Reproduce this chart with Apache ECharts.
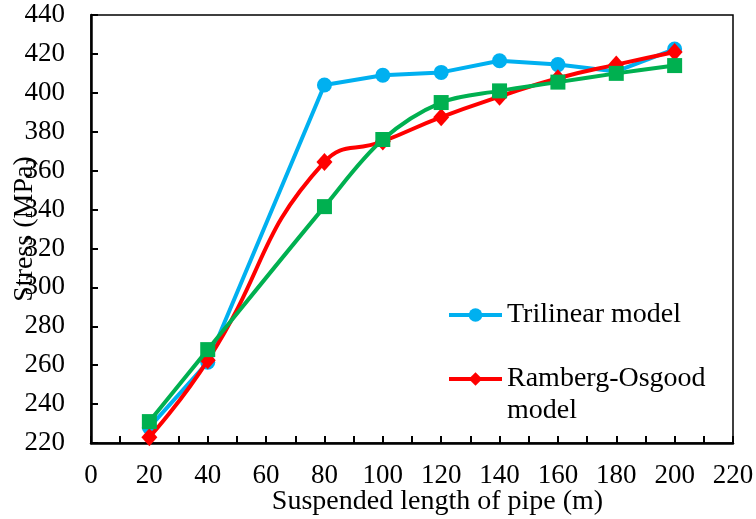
<!DOCTYPE html>
<html>
<head>
<meta charset="utf-8">
<script src="https://cdn.jsdelivr.net/npm/echarts@6/dist/echarts.min.js"></script>
<style>html,body{margin:0;padding:0;background:#fff}#c{width:756px;height:519px}</style>
</head>
<body>
<div id="c"></div>
<script>
var xValues = [20, 40, 80, 100, 120, 140, 160, 180, 200];
var trilinear = [228, 261.5, 404, 409, 410.5, 416.5, 414.5, 411, 422.5];
var rambergOsgood = [223, 262.5, 364.5, 375, 387.5, 398, 407.5, 414.5, 421];
var thirdSeries = [231, 268, 341.5, 376, 395, 401, 405.5, 410, 414];
var seriesNames = ['Trilinear model', 'Ramberg-Osgood model', 'Model 3'];
var xTitle = 'Suspended length of pipe (m)';
var yTitle = 'Stress (MPa)';

function pairs(v) { return xValues.map(function (x, i) { return [x, v[i]]; }); }

var FONT = 'Liberation Serif';
var chart = echarts.init(document.getElementById('c'));
chart.setOption({
  animation: false,
  backgroundColor: '#fff',
  grid: { left: 91, right: 23, top: 15, bottom: 76, show: true, borderColor: '#000', borderWidth: 1.5, backgroundColor: 'transparent', outerBoundsMode: 'none', containLabel: false },
  legend: [{
    left: 447, top: 299, padding: 0, orient: 'vertical',
    itemWidth: 53, itemHeight: 17, itemGap: 5,
    data: [seriesNames[0]],
    lineStyle: { width: 4 },
    textStyle: { fontFamily: FONT, fontSize: 28, color: '#000', lineHeight: 32 }
  }, {
    left: 447, top: 331, padding: 0, orient: 'vertical',
    itemWidth: 53, itemHeight: 17, itemGap: 5,
    data: [seriesNames[1]],
    lineStyle: { width: 4 },
    formatter: function (n) { return '\n' + n.replace(' model', '\nmodel'); },
    textStyle: { fontFamily: FONT, fontSize: 28, color: '#000', lineHeight: 32 }
  }],
  xAxis: {
    type: 'value', min: 0, max: 220, interval: 20,
    name: xTitle, nameLocation: 'middle', nameGap: 45, nameMoveOverlap: false,
    nameTextStyle: { fontFamily: FONT, fontSize: 28, color: '#000', padding: [0, 0, 0, 51] },
    axisLine: { lineStyle: { color: '#000', width: 2.5 } },
    axisTick: { inside: true, length: 7, lineStyle: { color: '#000', width: 2 } },
    minorTick: { show: true, splitNumber: 2, length: 7, lineStyle: { color: '#000', width: 2 } },
    axisLabel: { fontFamily: FONT, fontSize: 27, color: '#000', margin: 19 },
    splitLine: { show: false }
  },
  yAxis: {
    type: 'value', min: 220, max: 440, interval: 20,
    name: yTitle, nameLocation: 'middle', nameGap: 52, nameMoveOverlap: false,
    nameTextStyle: { fontFamily: FONT, fontSize: 28, color: '#000' },
    axisLine: { show: true, lineStyle: { color: '#000', width: 2.5 } },
    axisTick: { show: true, inside: true, length: 7, lineStyle: { color: '#000', width: 2 } },
    axisLabel: { fontFamily: FONT, fontSize: 27, color: '#000', margin: 26 },
    splitLine: { show: false }
  },
  series: [{
    name: seriesNames[0], type: 'line', data: pairs(trilinear),
    symbol: 'circle', symbolSize: 15, smooth: false,
    lineStyle: { color: '#00B0F0', width: 4 }, itemStyle: { color: '#00B0F0' }, z: 2
  }, {
    name: seriesNames[1], type: 'line', data: pairs(rambergOsgood),
    symbol: 'diamond', symbolSize: [16, 18], smooth: 0.5,
    lineStyle: { color: '#FF0000', width: 4 }, itemStyle: { color: '#FF0000' }, z: 3
  }, {
    name: seriesNames[2], type: 'line', data: pairs(thirdSeries),
    symbol: 'rect', symbolSize: 15, smooth: 0.35,
    lineStyle: { color: '#00B050', width: 4 }, itemStyle: { color: '#00B050' }, z: 4
  }]
});
</script>
</body>
</html>
